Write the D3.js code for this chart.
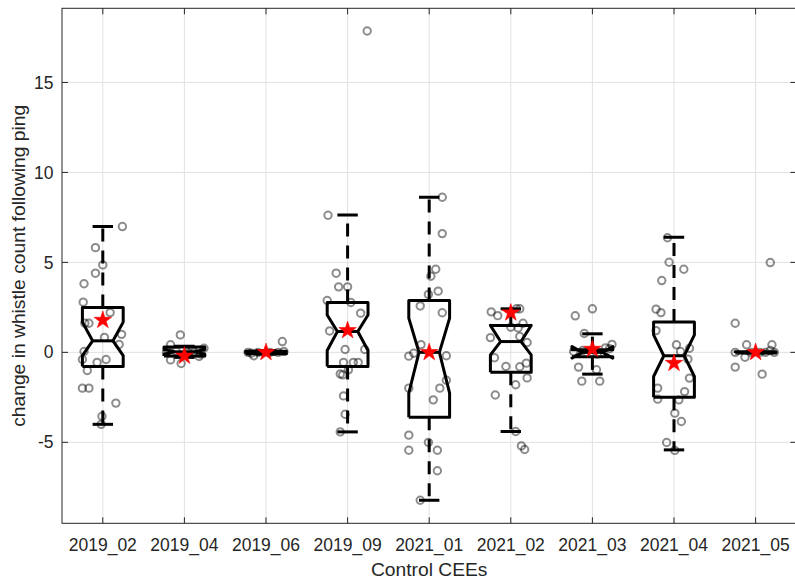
<!DOCTYPE html>
<html>
<head>
<meta charset="utf-8">
<script src="https://cdn.jsdelivr.net/npm/d3@7"></script>
<style>
  body { margin: 0; background: #fff; }
  text { font-family: "Liberation Sans", Arial, Helvetica, sans-serif; fill: #262626; }
</style>
</head>
<body>
<svg id="chart" width="795" height="584"></svg>
<script>
// Deployments (control CEEs)
const categories = ["2019_02", "2019_04", "2019_06", "2019_09", "2021_01", "2021_02", "2021_03", "2021_04", "2021_05"];

// Box statistics per deployment
const q1        = [-0.79, -0.20, -0.08, -0.79, -3.60, -1.10, -0.25, -2.49, -0.03];
const medians   = [ 0.64,  0.03,  0.00,  1.16,  0.00,  0.60,  0.00, -0.19,  0.00];
const q3        = [ 2.49,  0.30,  0.06,  2.77,  2.88,  1.49,  0.15,  1.68,  0.03];
const notchLo   = [-0.18, -0.10, -0.05,  0.10, -2.27, -0.14, -0.32, -1.34, -0.03];
const notchHi   = [ 1.68,  0.16,  0.05,  2.08,  1.90,  1.50,  0.32,  0.97,  0.03];
const whiskerLo = [-4.00, -0.28, -0.10, -4.42, -8.22, -4.40, -1.21, -5.42, -0.03];
const whiskerHi = [ 7.00,  0.34,  0.10,  7.64,  8.62,  2.42,  1.03,  6.40,  0.03];
const means     = [ 1.79, -0.20,  0.00,  1.22,  0.00,  2.20,  0.18, -0.60,  0.00];

// Individual observations per deployment (change in whistle count)
const values = [
  [6.99, 5.82, 4.86, 4.40, 3.81, 2.79, 2.21, 1.62, 1.62, 1.00, 0.83, 0.44, 0.05, -0.40, -0.40, -0.56, -1.01, -1.99, -1.99, -2.82, -3.55, -4.00],
  [0.97, 0.42, 0.23, -0.23, -0.42, -0.62, 0.10, 0.05, 0.00, 0.00, -0.10, 0.15, 0.00],
  [0.60, -0.19, 0.00, 0.00, 0.00, 0.00, 0.05, -0.05],
  [17.86, 7.62, 4.40, 3.64, 3.64, 2.88, 2.77, 2.18, 1.19, 0.16, 0.16, -0.56, -0.56, -0.56, -0.97, -1.20, -1.25, -2.42, -3.44, -4.42],
  [8.62, 6.60, 4.62, 4.23, 3.40, 3.22, 2.58, 2.20, 0.43, -0.05, -0.21, -0.19, -1.55, -1.99, -1.99, -2.64, -4.60, -5.44, -5.00, -5.44, -6.58, -8.22],
  [2.42, 2.42, 2.25, 2.04, 1.62, 1.40, 1.36, 0.82, 0.88, 0.55, -0.30, -0.78, -0.80, -0.60, -1.42, -1.80, -2.37, -4.40, -5.20, -5.40],
  [2.42, 2.03, 1.05, 0.44, 0.20, 0.25, 0.05, 0.10, -0.10, -0.82, -0.97, -1.60, -1.60],
  [6.37, 5.01, 4.62, 3.99, 2.40, 2.21, 1.21, 0.42, 0.23, 0.05, -0.38, -1.43, -1.99, -2.60, -2.18, -2.64, -3.38, -3.84, -5.01, -5.45],
  [4.99, 1.62, 0.42, 0.42, 0.10, 0.00, 0.00, -0.27, -0.82, -1.21, 0.00, 0.00, 0.00]
];
// Horizontal jitter of each observation, in category units
const jitter = [
  [0.24, -0.09, 0.00, -0.09, -0.23, -0.24, 0.09, -0.22, -0.17, 0.23, 0.02, 0.20, -0.23, -0.25, 0.04, -0.07, -0.19, -0.25, -0.17, 0.16, -0.01, -0.02],
  [-0.05, -0.17, 0.24, 0.18, -0.17, -0.04, -0.20, -0.10, 0.05, 0.12, 0.20, 0.10, -0.22],
  [0.20, -0.15, -0.22, -0.10, 0.05, 0.15, 0.22, -0.18],
  [0.24, -0.24, -0.14, -0.11, 0.00, -0.25, 0.04, 0.16, -0.22, -0.03, 0.21, -0.05, 0.07, 0.13, 0.01, -0.09, -0.06, -0.05, -0.03, -0.09],
  [0.16, 0.16, 0.08, 0.02, 0.11, -0.01, -0.11, 0.16, -0.10, -0.19, -0.25, 0.21, 0.21, 0.13, -0.25, 0.05, -0.25, -0.25, -0.01, 0.10, 0.10, -0.11],
  [0.11, 0.07, -0.24, -0.16, 0.15, 0.00, 0.09, -0.25, 0.11, 0.20, -0.20, -0.06, 0.11, 0.19, 0.20, 0.06, -0.19, 0.06, 0.13, 0.17],
  [0.00, -0.21, -0.10, 0.24, 0.21, 0.16, -0.23, -0.12, 0.06, -0.17, 0.05, -0.13, 0.09],
  [-0.08, -0.06, 0.12, -0.15, -0.22, -0.16, -0.22, 0.03, 0.19, 0.08, 0.17, 0.19, -0.20, -0.20, 0.13, 0.06, 0.01, 0.09, -0.09, 0.01],
  [0.18, -0.25, -0.11, 0.20, 0.18, -0.25, 0.23, -0.13, -0.25, 0.08, -0.05, 0.05, 0.12]
];

const yTicks = [-5, 0, 5, 10, 15];
const xLabel = "Control CEEs";
const yLabel = "change in whistle count following ping";

// ---- layout ----
const plot = { left: 62, right: 796.4, top: 8.3, bottom: 523.3 };
const boxWidth = 0.5;          // in category units
const inkColor = "#262626";

const svg = d3.select("#chart");
const x = d3.scaleLinear().domain([0.5, categories.length + 0.5]).range([plot.left, plot.right]);
const y = d3.scaleLinear().domain([-9.5, 19.12]).range([plot.bottom, plot.top]);
const idx = d3.range(categories.length);

svg.append("defs").append("clipPath").attr("id", "plotClip")
  .append("rect").attr("x", plot.left).attr("y", plot.top)
  .attr("width", plot.right - plot.left).attr("height", plot.bottom - plot.top);

// ---- grid ----
const grid = svg.append("g").attr("stroke", "#e1e1e1").attr("stroke-width", 1);
grid.selectAll("line.gx").data(idx).join("line")
  .attr("x1", i => x(i + 1)).attr("x2", i => x(i + 1))
  .attr("y1", plot.top).attr("y2", plot.bottom);
grid.selectAll("line.gy").data(yTicks).join("line")
  .attr("x1", plot.left).attr("x2", plot.right)
  .attr("y1", d => y(d)).attr("y2", d => y(d));

// ---- boxes ----
const marks = svg.append("g").attr("clip-path", "url(#plotClip)");
const bw = x(1 + boxWidth / 2) - x(1);     // half box width in px
const nw = bw / 2;                          // half notch width
const cw = bw / 2;                          // half cap width

const boxes = marks.append("g").attr("fill", "none").attr("stroke", "#000").attr("stroke-width", 3)
  .attr("stroke-linejoin", "round");

idx.forEach(i => {
  const cx = x(i + 1);
  const L = cx - bw, R = cx + bw;
  const pts = [
    [L, y(q1[i])], [L, y(notchLo[i])], [cx - nw, y(medians[i])], [L, y(notchHi[i])], [L, y(q3[i])],
    [R, y(q3[i])], [R, y(notchHi[i])], [cx + nw, y(medians[i])], [R, y(notchLo[i])], [R, y(q1[i])], [L, y(q1[i])]
  ];
  boxes.append("path").attr("d", d3.line()(pts));
  // median
  boxes.append("line").attr("x1", cx - nw).attr("x2", cx + nw)
    .attr("y1", y(medians[i])).attr("y2", y(medians[i]));
  // whiskers (dashed), drawn outward from the box
  boxes.append("line").attr("x1", cx).attr("x2", cx)
    .attr("y1", y(q3[i])).attr("y2", y(whiskerHi[i])).attr("stroke-dasharray", "13,9");
  boxes.append("line").attr("x1", cx).attr("x2", cx)
    .attr("y1", y(q1[i])).attr("y2", y(whiskerLo[i])).attr("stroke-dasharray", "13,9");
  // caps
  boxes.append("line").attr("x1", cx - cw).attr("x2", cx + cw)
    .attr("y1", y(whiskerHi[i])).attr("y2", y(whiskerHi[i]));
  boxes.append("line").attr("x1", cx - cw).attr("x2", cx + cw)
    .attr("y1", y(whiskerLo[i])).attr("y2", y(whiskerLo[i]));
});

// ---- observations ----
const obs = idx.flatMap(i => values[i].map((v, k) => ({ g: i, v, j: jitter[i][k] })));
marks.append("g").selectAll("circle").data(obs).join("circle")
  .attr("cx", d => x(d.g + 1 + d.j)).attr("cy", d => y(d.v)).attr("r", 3.7)
  .attr("fill", "none").attr("stroke", "#000").attr("stroke-opacity", 0.45).attr("stroke-width", 2);

// ---- means ----
marks.append("g").selectAll("path").data(idx).join("path")
  .attr("transform", i => `translate(${x(i + 1)},${y(means[i])})`)
  .attr("d", d3.symbol(d3.symbolStar, 95)())
  .attr("fill", "#ff0000").attr("stroke", "#ff0000").attr("stroke-width", 0.6);

// ---- frame & ticks ----
const frame = svg.append("g").attr("stroke", inkColor).attr("stroke-width", 1).attr("fill", "none");
frame.append("rect").attr("x", plot.left).attr("y", plot.top)
  .attr("width", plot.right - plot.left).attr("height", plot.bottom - plot.top);
const tl = 6;
idx.forEach(i => {
  const cx = x(i + 1);
  frame.append("line").attr("x1", cx).attr("x2", cx).attr("y1", plot.bottom).attr("y2", plot.bottom - tl);
  frame.append("line").attr("x1", cx).attr("x2", cx).attr("y1", plot.top).attr("y2", plot.top + tl);
});
yTicks.forEach(t => {
  frame.append("line").attr("x1", plot.left).attr("x2", plot.left + tl).attr("y1", y(t)).attr("y2", y(t));
  frame.append("line").attr("x1", plot.right).attr("x2", plot.right - tl).attr("y1", y(t)).attr("y2", y(t));
});

// ---- labels ----
const labels = svg.append("g").style("font-size", "17.5px");
labels.selectAll("text.xt").data(idx).join("text")
  .attr("x", i => x(i + 1)).attr("y", 550.7).attr("text-anchor", "middle")
  .text(i => categories[i]);
labels.selectAll("text.yt").data(yTicks).join("text")
  .attr("x", 53.5).attr("y", d => y(d)).attr("dy", "0.35em").attr("text-anchor", "end")
  .text(d => d);

svg.append("text").attr("x", (plot.left + plot.right) / 2).attr("y", 576)
  .attr("text-anchor", "middle").style("font-size", "19.25px").text(xLabel);
svg.append("text").attr("transform", `translate(25,${(plot.top + plot.bottom) / 2}) rotate(-90)`)
  .attr("text-anchor", "middle").style("font-size", "19.25px").text(yLabel);
</script>
</body>
</html>
